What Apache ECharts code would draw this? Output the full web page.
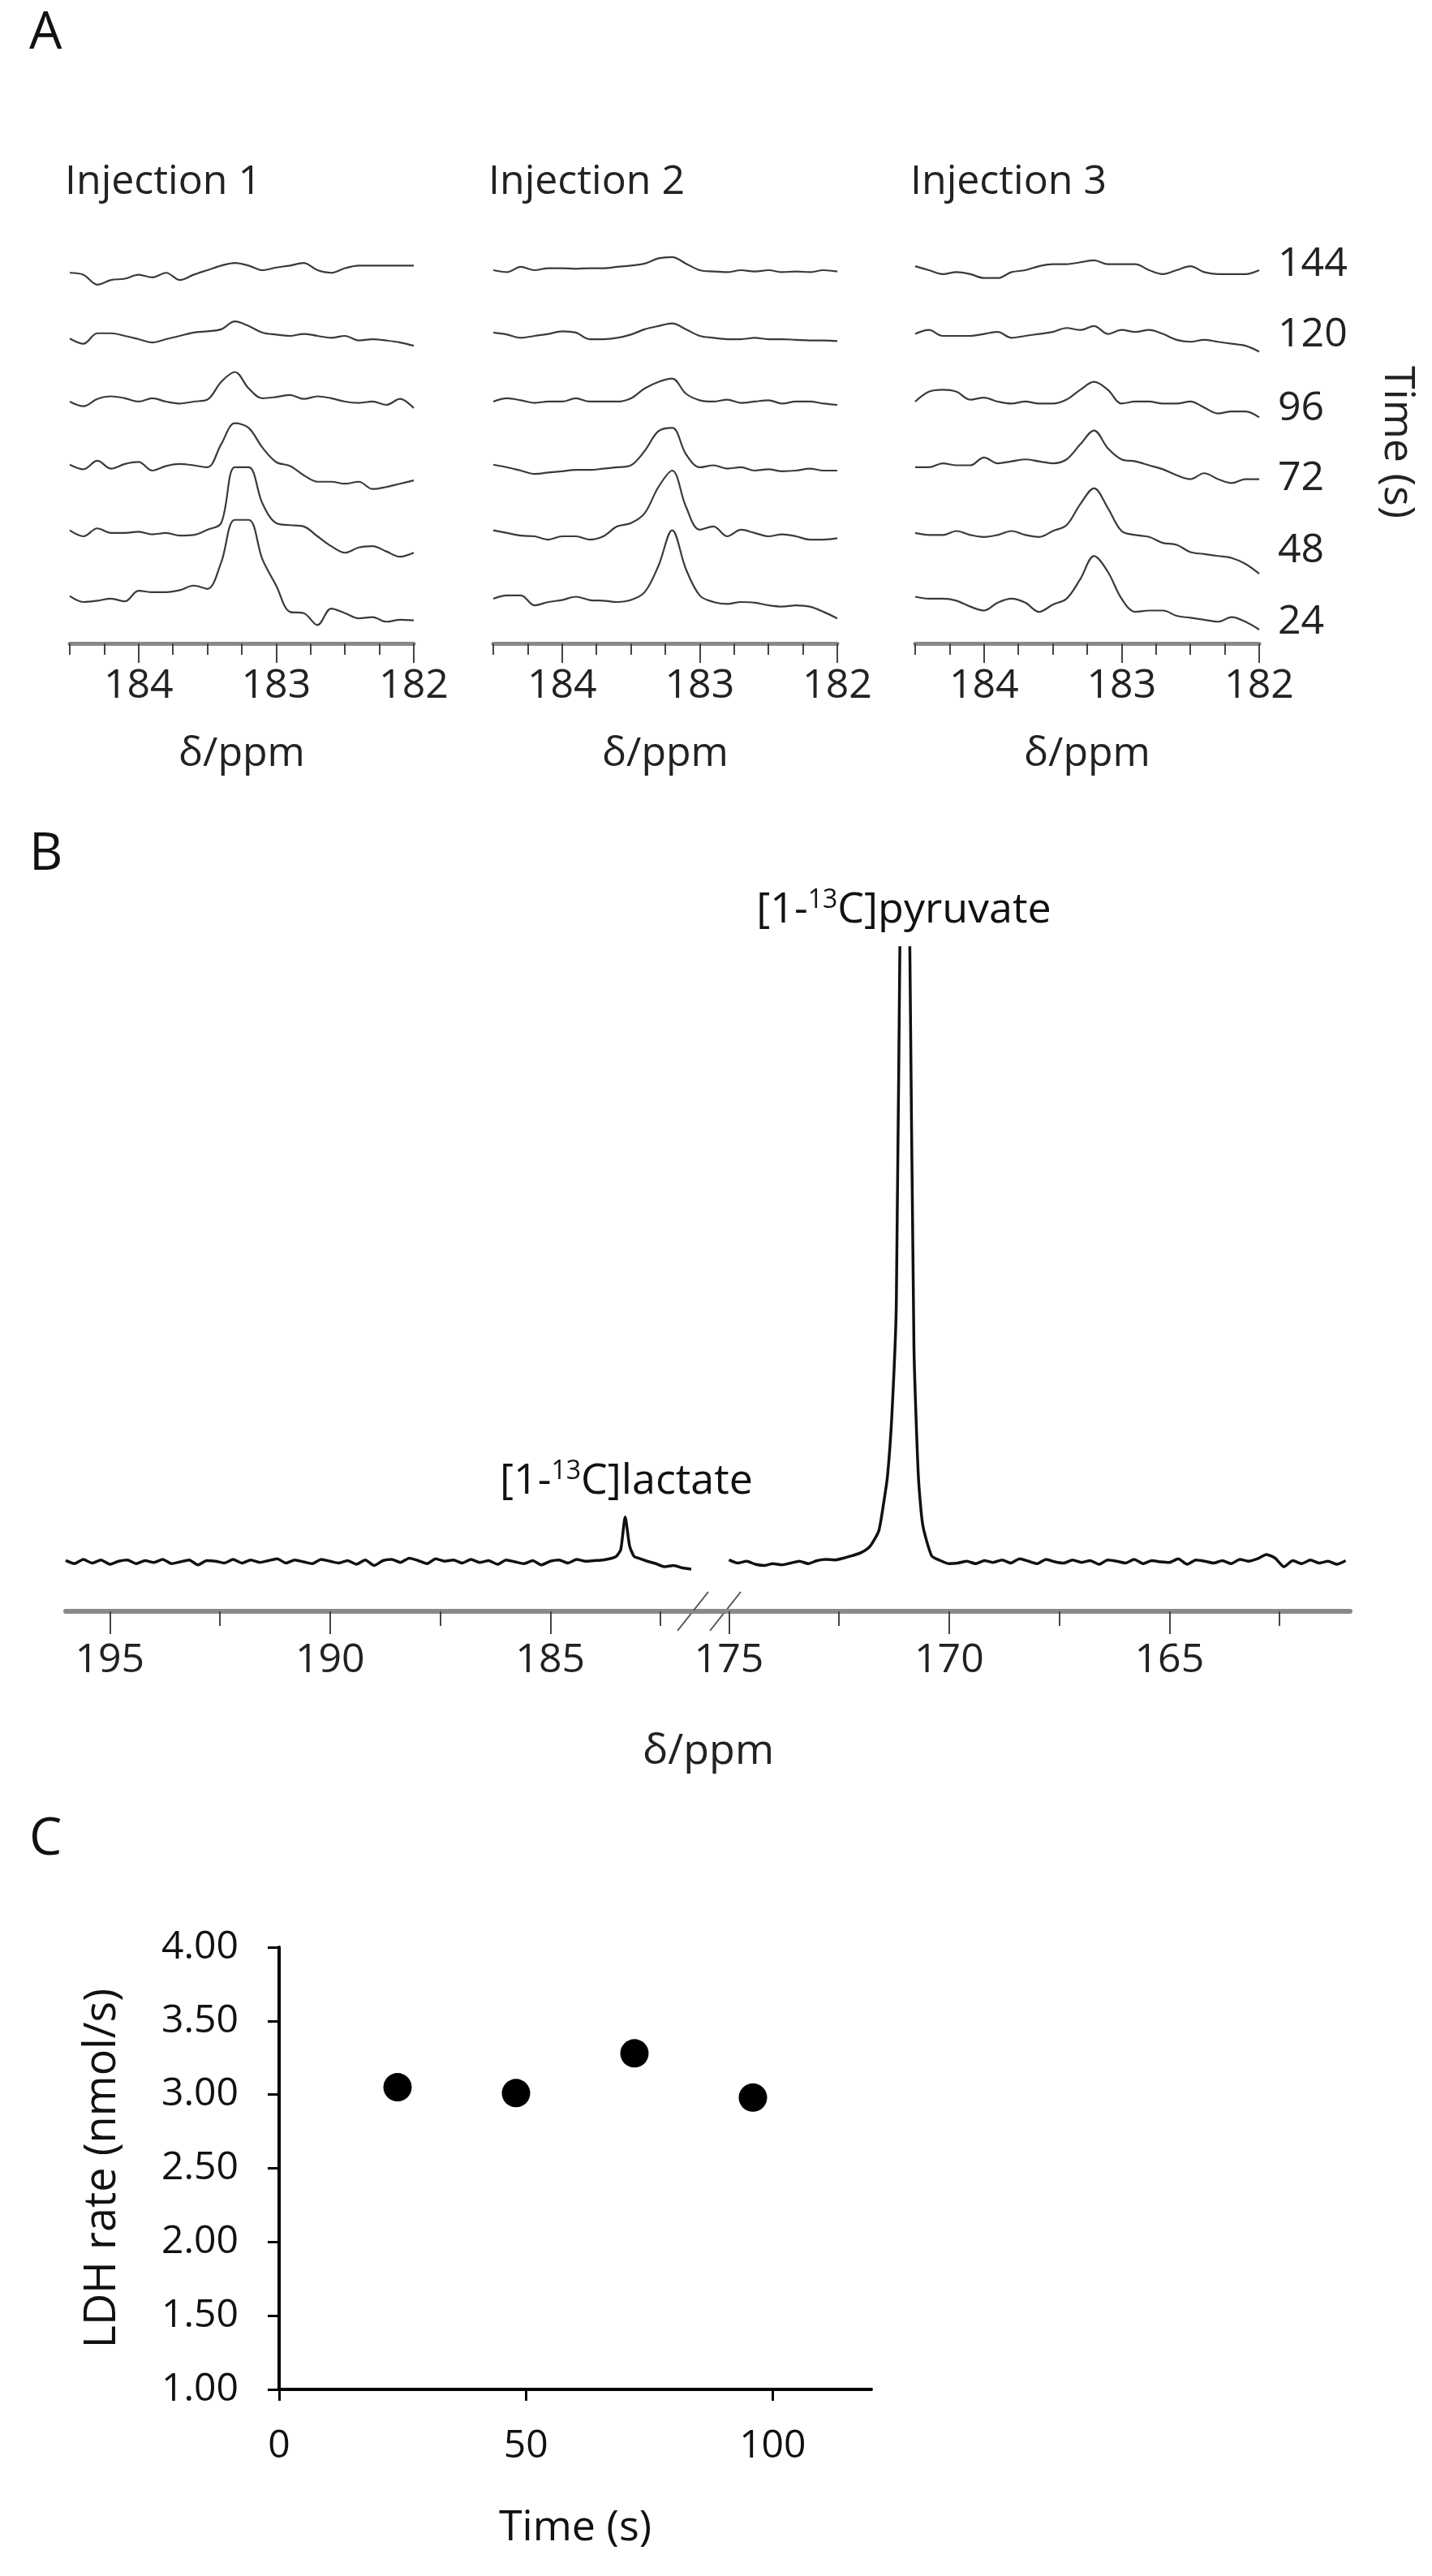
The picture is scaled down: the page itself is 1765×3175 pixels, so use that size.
<!DOCTYPE html>
<html>
<head>
<meta charset="utf-8">
<script src="https://cdn.jsdelivr.net/npm/echarts@6/dist/echarts.min.js"></script>
<style>
  html, body { margin: 0; padding: 0; background: #fff; }
  #chart { width: 1765px; height: 3175px; }
</style>
</head>
<body>
<div id="chart"></div>
<script>
// panel A: chemical shift grid (ppm), 0.1 ppm steps from 184.5 to 182.0
const ppmA = [184.5, 184.4, 184.3, 184.2, 184.1, 184.0, 183.9, 183.8, 183.7, 183.6, 183.5, 183.4, 183.3,
  183.2, 183.1, 183.0, 182.9, 182.8, 182.7, 182.6, 182.5, 182.4, 182.3, 182.2, 182.1, 182.0]
const timesA = [24, 48, 72, 96, 120, 144]

// injection 1, one trace per time point (24 s first)
const inj1 = [
  [0.04, -0.05, -0.03, 0.0, -0.04, 0.12, 0.1, 0.1, 0.13, 0.2, 0.15, 0.55, 1.2, 1.2, 0.6, 0.2, -0.2, -0.22, -0.4, -0.15, -0.22, -0.3, -0.28, -0.35, -0.32, -0.33],
  [0.04, -0.05, 0.07, 0.0, 0.0, 0.02, -0.02, 0.0, -0.04, -0.03, 0.05, 0.15, 1.0, 1.0, 0.45, 0.15, 0.12, 0.1, -0.05, -0.2, -0.3, -0.22, -0.2, -0.28, -0.36, -0.3],
  [0.04, -0.03, 0.1, -0.02, 0.05, 0.08, -0.05, 0.02, 0.05, 0.03, 0.0, 0.35, 0.67, 0.6, 0.3, 0.08, 0.02, -0.12, -0.22, -0.22, -0.25, -0.22, -0.33, -0.3, -0.25, -0.2],
  [0.0, -0.07, 0.04, 0.08, 0.05, 0.0, 0.05, 0.0, -0.03, 0.0, 0.03, 0.3, 0.45, 0.2, 0.05, 0.07, 0.1, 0.04, 0.08, 0.05, 0.0, -0.02, 0.0, -0.05, 0.04, -0.1],
  [-0.04, -0.12, 0.04, 0.04, 0.0, -0.05, -0.1, -0.05, 0.0, 0.05, 0.07, 0.1, 0.22, 0.15, 0.05, 0.02, 0.0, 0.03, 0.0, -0.03, 0.0, -0.07, -0.05, -0.07, -0.1, -0.15],
  [-0.04, -0.07, -0.22, -0.15, -0.13, -0.07, -0.11, -0.04, -0.15, -0.07, 0.0, 0.07, 0.11, 0.07, 0.0, 0.04, 0.07, 0.11, 0.0, -0.04, 0.03, 0.07, 0.07, 0.07, 0.07, 0.07]
]
const inj2 = [
  [0.0, 0.05, 0.05, -0.1, -0.05, -0.02, 0.03, -0.02, -0.03, -0.05, -0.02, 0.1, 0.5, 1.04, 0.45, 0.05, -0.05, -0.08, -0.05, -0.06, -0.1, -0.12, -0.1, -0.12, -0.2, -0.3],
  [0.04, 0.0, -0.04, -0.05, -0.1, -0.05, -0.05, -0.1, -0.05, 0.1, 0.15, 0.3, 0.7, 0.95, 0.4, 0.05, 0.1, -0.05, 0.05, 0.0, -0.05, -0.02, -0.05, -0.1, -0.1, -0.08],
  [0.04, 0.0, -0.05, -0.1, -0.08, -0.06, -0.04, -0.04, -0.02, 0.0, 0.03, 0.25, 0.55, 0.6, 0.2, 0.0, 0.03, -0.02, 0.0, -0.05, -0.03, -0.06, -0.05, -0.02, -0.05, -0.05],
  [0.0, 0.05, 0.02, -0.02, 0.0, 0.0, 0.05, 0.0, 0.0, 0.0, 0.05, 0.2, 0.3, 0.35, 0.12, 0.02, 0.0, 0.03, -0.02, 0.0, 0.02, -0.03, 0.0, 0.0, -0.03, -0.05],
  [0.05, 0.02, -0.03, 0.0, 0.03, 0.07, 0.05, -0.05, -0.05, -0.03, 0.02, 0.1, 0.15, 0.19, 0.1, 0.0, -0.03, -0.05, -0.05, -0.03, -0.05, -0.05, -0.06, -0.07, -0.07, -0.08],
  [0.0, -0.03, 0.05, 0.0, 0.03, 0.03, 0.02, 0.03, 0.03, 0.05, 0.07, 0.1, 0.18, 0.2, 0.1, 0.0, -0.02, -0.03, 0.0, -0.02, 0.0, -0.03, -0.02, -0.03, 0.0, -0.02]
]
const inj3 = [
  [0.03, 0.0, 0.0, -0.03, -0.12, -0.18, -0.06, 0.0, -0.06, -0.2, -0.09, 0.0, 0.3, 0.65, 0.41, 0.0, -0.2, -0.18, -0.18, -0.26, -0.29, -0.32, -0.35, -0.28, -0.35, -0.47],
  [0.0, -0.03, -0.03, 0.03, -0.03, -0.06, -0.03, 0.03, -0.03, -0.06, 0.03, 0.12, 0.44, 0.68, 0.38, 0.03, -0.03, -0.06, -0.15, -0.18, -0.29, -0.32, -0.35, -0.38, -0.47, -0.62],
  [0.0, 0.0, 0.06, 0.03, 0.03, 0.15, 0.06, 0.09, 0.12, 0.09, 0.06, 0.12, 0.35, 0.56, 0.29, 0.12, 0.09, 0.03, -0.03, -0.12, -0.18, -0.09, -0.18, -0.24, -0.18, -0.18],
  [0.0, 0.15, 0.18, 0.15, 0.03, 0.06, 0.0, -0.03, 0.0, -0.03, -0.03, 0.03, 0.18, 0.3, 0.18, -0.03, 0.0, 0.0, -0.03, -0.03, 0.0, -0.09, -0.18, -0.15, -0.15, -0.24],
  [0.03, 0.09, 0.0, 0.0, 0.0, 0.03, 0.06, -0.03, 0.0, 0.03, 0.06, 0.12, 0.09, 0.15, 0.03, 0.09, 0.06, 0.09, 0.03, -0.06, -0.09, -0.06, -0.09, -0.12, -0.15, -0.24],
  [0.06, 0.0, -0.06, -0.03, -0.06, -0.12, -0.12, -0.03, 0.0, 0.06, 0.09, 0.09, 0.12, 0.15, 0.09, 0.09, 0.09, 0.0, -0.06, 0.0, 0.06, -0.03, -0.06, -0.06, -0.06, 0.0]
]
const injections = [inj1, inj2, inj3]
const injTitles = ['Injection 1', 'Injection 2', 'Injection 3']

// panel B: full spectrum, left of the break 196 -> 181.8 ppm (0.2 steps), right 175.0 -> 161.0
const lactateSide = [0.2, -0.3, 0.4, -0.2, 0.3, -0.4, 0.1, 0.3, -0.3, 0.2, -0.1, 0.4, -0.3, 0.0, 0.3, -0.5, 0.2, 0.1, -0.2, 0.4,
  -0.2, 0.3, -0.1, 0.2, 0.5, -0.2, 0.3, 0.0, -0.3, 0.4, 0.1, -0.2, 0.2, -0.4, 0.3, -0.6, 0.2, 0.4, -0.1, 0.6,
  0.2, -0.3, 0.5, 0.1, 0.3, -0.2, 0.4, -0.1, 0.2, -0.4, 0.3, 0.0, -0.3, 0.2, -0.5, 0.1, 0.3, -0.2, 0.4, 0.1,
  0.2, 0.3, 0.6, 2.0, 2.6, 0.6, 0.1, -0.3, -0.8, -0.6, -1.0, -1.2]
const lactatePeak = [[183.3, 7.3], [183.1, 0.9], [183.5, 0.9]]
const pyruvateSide = [0.3, -0.2, 0.1, -0.4, -0.6, -0.3, -0.5, -0.2, 0.1, -0.3, 0.2, 0.4, 0.3, 0.6, 1.0,
  1.5, 2.5, 5.0, 14, 42, 160, 35, 6, 1.0, 0.2, -0.3, -0.2, 0.1,
  -0.3, 0.2, -0.1, 0.3, -0.2, 0.5, 0.1, -0.3, 0.4, 0.0, -0.2, 0.3, -0.1, 0.2, -0.4, 0.3, 0.1, -0.2, 0.4, -0.3,
  0.2, 0.0, -0.1, 0.5, -0.4, 0.3, 0.1, -0.2, 0.2, -0.3, 0.4, 0.1, 0.5, 1.2, 0.6, -0.8, 0.2, -0.3, 0.3, -0.2, 0.1, -0.4, 0.2]
const pyruvatePeak = [[171.5, 9], [171.3, 24], [171.1, 115], [170.9, 105], [170.7, 14]]

// panel C
const timeC = [24, 48, 72, 96]
const ldhRate = [3.05, 3.01, 3.28, 2.98]

const FONT = '"Open Sans"'
const GRAY = '#8a8a8a'

function withPpm(start, step, vals, extra) {
  const pts = vals.map((v, i) => [+(start - step * i).toFixed(2), v]).concat(extra)
  return pts.sort((a, b) => b[0] - a[0])
}

const chart = echarts.init(document.getElementById('chart'), null, { renderer: 'canvas' })

const grids = []
const xAxes = []
const yAxes = []
const series = []
const graphics = []

// ---- panel A ----
const aLeft = [86, 608, 1128]
const aWidth = 424
const aBottom = 793
injections.forEach((traces, g) => {
  grids.push({ left: aLeft[g], width: aWidth, top: 252, height: aBottom - 252 })
  const gi = grids.length - 1
  xAxes.push({
    gridIndex: gi, type: 'value', inverse: true, min: 182, max: 184.5, interval: 1,
    axisLine: { onZero: false, lineStyle: { color: GRAY, width: 5 } },
    axisTick: { length: 24, lineStyle: { color: '#444', width: 2 } },
    axisLabel: { fontFamily: FONT, fontSize: 50, color: '#222', margin: 28 },
    splitLine: { show: false },
    name: 'δ/ppm', nameLocation: 'middle', nameGap: 112,
    nameTextStyle: { fontFamily: FONT, fontSize: 50, color: '#222' }
  })
  xAxes.push({
    gridIndex: gi, type: 'value', inverse: true, min: 182, max: 184.5, position: 'bottom',
    axisLine: { show: false, onZero: false }, axisLabel: { show: false }, splitLine: { show: false },
    axisTick: { length: 14, lineStyle: { color: '#444', width: 2 },
      customValues: [182.25, 182.5, 182.75, 183.25, 183.5, 183.75, 184.25, 184.5] }
  })
  yAxes.push({ gridIndex: gi, type: 'value', min: -0.68, max: 6.0, show: false })
  traces.forEach((tr, k) => {
    series.push({
      type: 'line', xAxisIndex: xAxes.length - 2, yAxisIndex: yAxes.length - 1,
      data: tr.map((v, i) => [ppmA[i], v + k]),
      smooth: 0.35, symbol: 'none',
      lineStyle: { color: '#3a3a3a', width: 2.2 }
    })
  })
  graphics.push({ type: 'text', left: aLeft[g] - 6, top: 200,
    style: { text: injTitles[g], font: `50px ${FONT}`, fill: '#222' } })
})
const labelY = [776, 688, 599, 513, 422, 335]
timesA.forEach((t, k) => {
  graphics.push({ type: 'text', left: 1575, top: labelY[k] - 34,
    style: { text: String(t), font: `50px ${FONT}`, fill: '#222' } })
})
graphics.push({ type: 'text', x: 1722, y: 545, rotation: -Math.PI / 2,
  style: { text: 'Time (s)', font: `52px ${FONT}`, fill: '#222', align: 'center', verticalAlign: 'middle' } })
graphics.push({ type: 'text', left: 36, top: 10, style: { text: 'A', font: `64px ${FONT}`, fill: '#111' } })

// ---- panel B ----
const bTop = 1168, bBottom = 1986
const bGrids = [
  { left: 81, width: 771, min: 181.8, max: 196, major: [195, 190, 185], minor: [192.5, 187.5, 182.5],
    data: withPpm(196, 0.2, lactateSide, lactatePeak) },
  { left: 893, width: 771, min: 160.9, max: 175.1, major: [175, 170, 165], minor: [172.5, 167.5, 162.5],
    data: withPpm(175, 0.2, pyruvateSide, pyruvatePeak) }
]
bGrids.forEach(b => {
  grids.push({ left: b.left, width: b.width, top: bTop, height: bBottom - bTop })
  const gi = grids.length - 1
  xAxes.push({
    gridIndex: gi, type: 'value', inverse: true, min: b.min, max: b.max,
    axisLine: { onZero: false, lineStyle: { color: GRAY, width: 6 } },
    axisTick: { length: 28, lineStyle: { color: '#444', width: 2 }, customValues: b.major },
    axisLabel: { fontFamily: FONT, fontSize: 50, color: '#222', margin: 36, customValues: b.major },
    splitLine: { show: false }
  })
  xAxes.push({
    gridIndex: gi, type: 'value', inverse: true, min: b.min, max: b.max, position: 'bottom',
    axisLine: { show: false, onZero: false }, axisLabel: { show: false }, splitLine: { show: false },
    axisTick: { length: 18, lineStyle: { color: '#444', width: 2 }, customValues: b.minor }
  })
  // baseline of the spectrum sits ~60 px above the axis
  yAxes.push({ gridIndex: gi, type: 'value', min: -8.06, max: 100, show: false })
  series.push({
    type: 'line', xAxisIndex: xAxes.length - 2, yAxisIndex: yAxes.length - 1,
    data: b.data, symbol: 'none', smooth: 0.2, clip: true,
    lineStyle: { color: '#111', width: 3.5 }
  })
})
// axis line through the break and the break marks
graphics.push({ type: 'line', shape: { x1: 852, y1: bBottom, x2: 893, y2: bBottom },
  style: { stroke: GRAY, lineWidth: 6 } })
graphics.push({ type: 'line', shape: { x1: 835, y1: 2010, x2: 873, y2: 1962 }, style: { stroke: '#555', lineWidth: 2 } })
graphics.push({ type: 'line', shape: { x1: 875, y1: 2010, x2: 913, y2: 1962 }, style: { stroke: '#555', lineWidth: 2 } })
graphics.push({ type: 'text', x: 873, y: 2159,
  style: { text: 'δ/ppm', font: `52px ${FONT}`, fill: '#222', align: 'center', verticalAlign: 'middle' } })
graphics.push({ type: 'text', left: 36, top: 1022, style: { text: 'B', font: `64px ${FONT}`, fill: '#111' } })
graphics.push({ type: 'text', x: 1114, y: 1122,
  style: { rich: { n: { font: `52px ${FONT}`, fill: '#111' }, s: { font: `32px ${FONT}`, fill: '#111', padding: [0, 0, 24, 0] } },
    text: '{n|[1-}{s|13}{n|C]pyruvate}', align: 'center', verticalAlign: 'middle' } })
graphics.push({ type: 'text', x: 772, y: 1826,
  style: { rich: { n: { font: `52px ${FONT}`, fill: '#111' }, s: { font: `32px ${FONT}`, fill: '#111', padding: [0, 0, 24, 0] } },
    text: '{n|[1-}{s|13}{n|C]lactate}', align: 'center', verticalAlign: 'middle' } })

// ---- panel C ----
grids.push({ left: 344, width: 730, top: 2400, height: 545 })
const gc = grids.length - 1
xAxes.push({
  gridIndex: gc, type: 'value', min: 0, max: 120, interval: 50,
  axisLine: { onZero: false, lineStyle: { color: '#000', width: 4 } },
  axisTick: { length: 14, lineStyle: { color: '#000', width: 3 } },
  axisLabel: { fontFamily: FONT, fontSize: 48, color: '#111', margin: 46, showMaxLabel: false },
  splitLine: { show: false },
  name: 'Time (s)', nameLocation: 'middle', nameGap: 145,
  nameTextStyle: { fontFamily: FONT, fontSize: 52, color: '#111' }
})
yAxes.push({
  gridIndex: gc, type: 'value', min: 1, max: 4, interval: 0.5,
  axisLine: { show: true, lineStyle: { color: '#000', width: 4 } },
  axisTick: { show: true, length: 14, lineStyle: { color: '#000', width: 3 } },
  axisLabel: { fontFamily: FONT, fontSize: 48, color: '#111', margin: 50, formatter: v => v.toFixed(2) },
  splitLine: { show: false },
  name: 'LDH rate (nmol/s)', nameLocation: 'middle', nameGap: 190, nameRotate: 90,
  nameTextStyle: { fontFamily: FONT, fontSize: 54, color: '#111' }
})
series.push({
  type: 'scatter', xAxisIndex: xAxes.length - 1, yAxisIndex: yAxes.length - 1,
  data: timeC.map((t, i) => [t, ldhRate[i]]),
  symbol: 'circle', symbolSize: 35, itemStyle: { color: '#000', opacity: 1 }
})
graphics.push({ type: 'text', left: 36, top: 2236, style: { text: 'C', font: `64px ${FONT}`, fill: '#111' } })

chart.setOption({
  animation: false,
  backgroundColor: '#fff',
  grid: grids,
  xAxis: xAxes,
  yAxis: yAxes,
  series,
  graphic: graphics
})
</script>
</body>
</html>
